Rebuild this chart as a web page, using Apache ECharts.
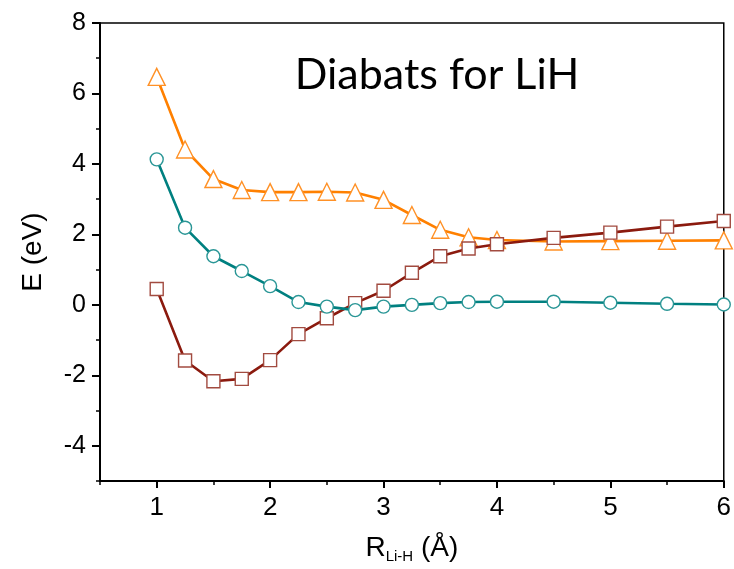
<!DOCTYPE html>
<html>
<head>
<meta charset="utf-8">
<script src="https://cdn.jsdelivr.net/npm/echarts@6/dist/echarts.min.js"></script>
<style>html,body{margin:0;padding:0;background:#fff}#c{width:734px;height:569px}</style>
</head>
<body>
<div id="c"></div>
<script>
const xValues = [1, 1.25, 1.5, 1.75, 2, 2.25, 2.5, 2.75, 3, 3.25, 3.5, 3.75, 4, 4.5, 5, 5.5, 6];
const upperDiabat = [6.47, 4.41, 3.57, 3.26, 3.20, 3.20, 3.21, 3.19, 2.98, 2.55, 2.13, 1.92, 1.84, 1.80, 1.81, 1.82, 1.83];
const middleDiabat = [4.13, 2.19, 1.38, 0.96, 0.53, 0.08, -0.05, -0.15, -0.05, 0.00, 0.05, 0.08, 0.09, 0.09, 0.06, 0.03, 0.01];
const lowerDiabat = [0.45, -1.58, -2.17, -2.10, -1.57, -0.83, -0.38, 0.05, 0.40, 0.91, 1.38, 1.60, 1.72, 1.90, 2.05, 2.22, 2.38];
const xTickLabels = [1, 2, 3, 4, 5, 6];
const yTickLabels = [-4, -2, 0, 2, 4, 6, 8];
const titleText = 'Diabats for LiH';

const pairs = ys => xValues.map((x, i) => [x, ys[i]]);
const chart = echarts.init(document.getElementById('c'), null, {renderer: 'canvas'});
const axisFont = 'Liberation Sans, Arial, sans-serif';
chart.setOption({
  animation: false,
  backgroundColor: '#fff',
  grid: {left: 100, right: 9, top: 23, bottom: 82, show: true, borderColor: '#000', borderWidth: 1.5},
  graphic: [{
    type: 'text', x: 437, y: 75,
    style: {text: titleText, font: '43px Lato, "Open Sans", sans-serif', fill: '#000', textAlign: 'center', textVerticalAlign: 'middle'},
  }],
  xAxis: [{
    type: 'value', min: 0.5, max: 6, position: 'bottom',
    axisLine: {onZero: false, lineStyle: {color: '#000', width: 2}},
    axisTick: {customValues: xTickLabels, length: 7, lineStyle: {width: 2, color: '#000'}},
    axisLabel: {customValues: xTickLabels, fontSize: 26, color: '#000', fontFamily: axisFont, margin: 14},
    splitLine: {show: false},
    name: '{r|R}{s|Li-H}{r| (Å)}', nameLocation: 'middle', nameGap: 52,
    nameTextStyle: {rich: {
      r: {fontSize: 28, fontFamily: axisFont, color: '#000'},
      s: {fontSize: 15, fontFamily: axisFont, color: '#000', verticalAlign: 'bottom', padding: [16, 0, 0, 0]}
    }}
  }, {
    type: 'value', min: 0.5, max: 6, interval: 0.5, position: 'bottom',
    axisLine: {show: false, onZero: false},
    axisTick: {length: 4, lineStyle: {width: 1.5, color: '#000'}},
    axisLabel: {show: false}, splitLine: {show: false}
  }],
  yAxis: [{
    type: 'value', min: -5, max: 8, position: 'left',
    axisLine: {show: true, onZero: false, lineStyle: {color: '#000', width: 2}},
    axisTick: {show: true, customValues: yTickLabels, length: 8, lineStyle: {width: 2, color: '#000'}},
    axisLabel: {customValues: yTickLabels, fontSize: 25, color: '#000', fontFamily: axisFont, margin: 14},
    splitLine: {show: false},
    name: 'E (eV)', nameLocation: 'middle', nameGap: 53, nameRotate: 90,
    nameTextStyle: {fontSize: 28, fontFamily: axisFont, color: '#000'}
  }, {
    type: 'value', min: -5, max: 8, interval: 1, position: 'left',
    axisLine: {show: false, onZero: false},
    axisTick: {show: true, length: 4, lineStyle: {width: 1.5, color: '#000'}},
    axisLabel: {show: false}, splitLine: {show: false}
  }],
  series: [{
    type: 'line', data: pairs(lowerDiabat), symbol: 'rect', symbolSize: 13,
    lineStyle: {color: '#8B1A0E', width: 2.6},
    itemStyle: {color: '#fff', borderColor: '#A24B40', borderWidth: 1.4}, z: 3
  }, {
    type: 'line', data: pairs(middleDiabat), symbol: 'circle', symbolSize: 13,
    lineStyle: {color: '#008080', width: 2.6},
    itemStyle: {color: '#fff', borderColor: '#2A9696', borderWidth: 1.4}, z: 4
  }, {
    type: 'line', data: pairs(upperDiabat), symbol: 'triangle', symbolSize: 17,
    lineStyle: {color: '#FF8000', width: 2.6},
    itemStyle: {color: '#fff', borderColor: '#FF9126', borderWidth: 1.4}, z: 2
  }]
});
</script>
</body>
</html>
